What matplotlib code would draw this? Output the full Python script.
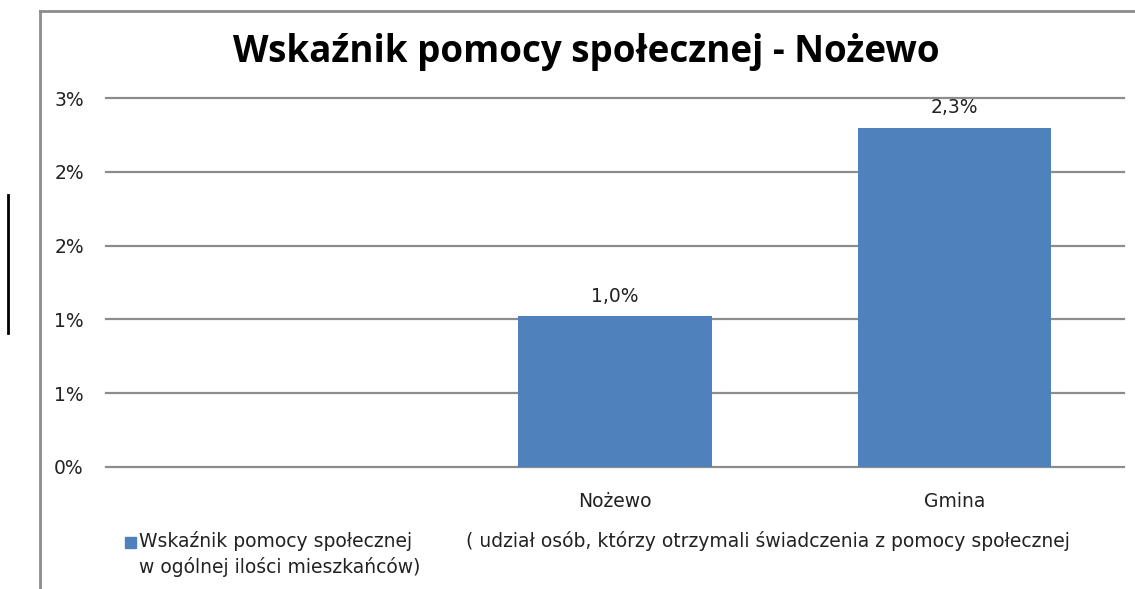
import matplotlib.pyplot as plt
from matplotlib.lines import Line2D
from matplotlib.patches import Rectangle

# dane
kategorie = ["", "Nożewo", "Gmina"]
wartosci = [None, 1.02, 2.30]          # procent
etykiety = ["", "1,0%", "2,3%"]
y_ticks = [0, 0.5, 1.0, 1.5, 2.0, 2.5]
y_labels = ["0%", "1%", "1%", "2%", "2%", "3%"]

tytul = "Wskaźnik pomocy społecznej - Nożewo"
legenda_1 = "Wskaźnik pomocy społecznej"
legenda_2 = "( udział osób, którzy otrzymali świadczenia z pomocy społecznej"
legenda_3 = "w ogólnej ilości mieszkańców)"

kolor = "#4f81bd"
plt.rcParams['font.family'] = ['DejaVu Sans']
fs = 13.5

W, H = 1135, 589
fig = plt.figure(figsize=(W / 100, H / 100), dpi=100)
ax = fig.add_axes([106 / W, 1 - 467 / H, (1124 - 106) / W, (467 - 98) / H])

x = list(range(len(kategorie)))
for i, v in enumerate(wartosci):
    if v is None:
        continue
    ax.bar(i, v, width=0.57, color=kolor, zorder=3)
    ax.text(i, v + 0.07, etykiety[i], ha='center', va='bottom', fontsize=fs, color='#222222')

ax.set_xlim(-0.5, 2.5)
ax.set_ylim(0, 2.5)
ax.set_yticks(y_ticks)
ax.set_yticklabels(y_labels, fontsize=fs, color='#222222')
ax.set_xticks(x)
ax.set_xticklabels(kategorie, fontsize=fs, color='#222222')
ax.tick_params(axis='y', length=0, pad=16)
ax.tick_params(axis='x', length=0, pad=18)
ax.grid(axis='y', color='#8c8c8c', linewidth=1.6, zorder=0)
for gl in ax.get_ygridlines():
    gl.set_clip_on(False)
for s in ax.spines.values():
    s.set_visible(False)

fig.text(586 / W, 1 - 62 / H, tytul, ha='center', va='baseline', fontsize=26.5,
         fontweight='bold', family=['Open Sans', 'DejaVu Sans'])

# legenda
fig.add_artist(Rectangle((125 / W, 1 - 548 / H), 11 / W, 11 / H, color=kolor, transform=fig.transFigure))
fig.text(139 / W, 1 - 541 / H, legenda_1, ha='left', va='center', fontsize=fs, color='#222222')
fig.text(466 / W, 1 - 541 / H, legenda_2, ha='left', va='center', fontsize=fs, color='#222222')
fig.text(139 / W, 1 - 567 / H, legenda_3, ha='left', va='center', fontsize=fs, color='#222222')

# ramka
fig.add_artist(Line2D([40 / W, 40 / W], [0, 1 - 11 / H], color='#8c8c8c', linewidth=2, transform=fig.transFigure))
fig.add_artist(Line2D([40 / W, 1], [1 - 11 / H, 1 - 11 / H], color='#8c8c8c', linewidth=2, transform=fig.transFigure))
fig.add_artist(Line2D([8 / W, 8 / W], [1 - 333 / H, 1 - 195 / H], color='black', linewidth=2, transform=fig.transFigure))

fig.savefig("out.png", dpi=100)
